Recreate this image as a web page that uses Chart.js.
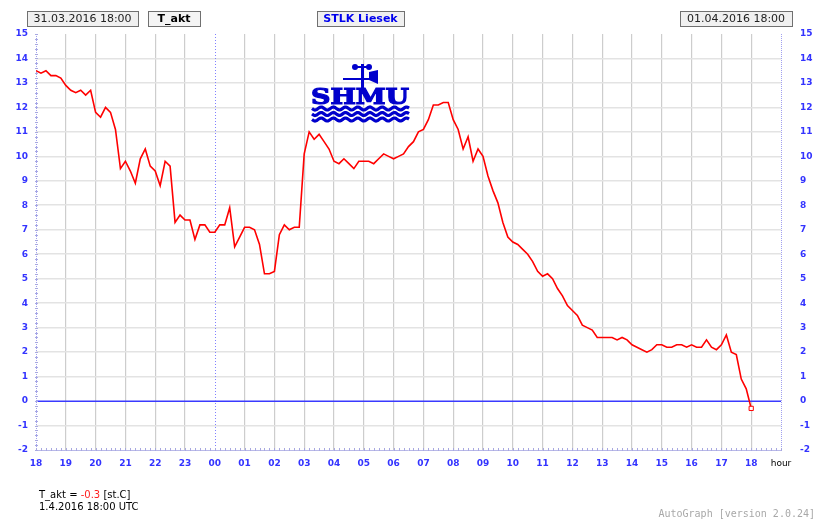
<!DOCTYPE html>
<html>
<head>
<meta charset="utf-8">
<script src="https://cdn.jsdelivr.net/npm/chart.js@4"></script>
<style>
  html, body { margin: 0; padding: 0; background: #fff; }
  #wrap { width: 820px; height: 525px; position: relative; }
</style>
</head>
<body>
<div id="wrap"><canvas id="tempChart" width="820" height="525"></canvas></div>
<script>
// hour labels on the x axis (18:00 31.03. -> 19:00 01.04.)
const hourLabels = ['18','19','20','21','22','23','00','01','02','03','04','05','06',
    '07','08','09','10','11','12','13','14','15','16','17','18','hour'];

// T_akt, 10 minute samples from 31.03.2016 18:00 UTC
const STEP_MIN = 10;
const tAkt = [
    13.5, 13.4, 13.5, 13.3, 13.3, 13.2, 12.9, 12.7, 12.6, 12.7, 12.5, 12.7,
    11.8, 11.6, 12.0, 11.8, 11.1, 9.5, 9.8, 9.4, 8.9, 9.9, 10.3, 9.6,
    9.4, 8.8, 9.8, 9.6, 7.3, 7.6, 7.4, 7.4, 6.6, 7.2, 7.2, 6.9,
    6.9, 7.2, 7.2, 7.9, 6.3, 6.7, 7.1, 7.1, 7.0, 6.4, 5.2, 5.2,
    5.3, 6.8, 7.2, 7.0, 7.1, 7.1, 10.1, 11.0, 10.7, 10.9, 10.6, 10.3,
    9.8, 9.7, 9.9, 9.7, 9.5, 9.8, 9.8, 9.8, 9.7, 9.9, 10.1, 10.0,
    9.9, 10.0, 10.1, 10.4, 10.6, 11.0, 11.1, 11.5, 12.1, 12.1, 12.2, 12.2,
    11.5, 11.1, 10.3, 10.8, 9.8, 10.3, 10.0, 9.2, 8.6, 8.1, 7.3, 6.7,
    6.5, 6.4, 6.2, 6.0, 5.7, 5.3, 5.1, 5.2, 5.0, 4.6, 4.3, 3.9,
    3.7, 3.5, 3.1, 3.0, 2.9, 2.6, 2.6, 2.6, 2.6, 2.5, 2.6, 2.5,
    2.3, 2.2, 2.1, 2.0, 2.1, 2.3, 2.3, 2.2, 2.2, 2.3, 2.3, 2.2,
    2.3, 2.2, 2.2, 2.5, 2.2, 2.1, 2.3, 2.7, 2.0, 1.9, 0.9, 0.5,
    -0.3
];

const Y_MIN = -2;
const Y_MAX = 15;
const X_MAX = 25 * 60;

const BLUE = '#3333ff';

function drawBox(ctx, x, y, w, h, text, opts) {
    ctx.save();
    ctx.fillStyle = opts.fill;
    ctx.fillRect(x, y, w, h);
    ctx.strokeStyle = '#707070';
    ctx.lineWidth = 1;
    ctx.strokeRect(x + 0.5, y + 0.5, w, h);
    ctx.fillStyle = opts.color;
    ctx.font = opts.font;
    ctx.textAlign = 'center';
    ctx.textBaseline = 'middle';
    ctx.fillText(text, x + w / 2, y + h / 2 + 1);
    ctx.restore();
}

function drawLogo(ctx) {
    ctx.save();
    ctx.fillStyle = '#0000cc';
    ctx.strokeStyle = '#0000cc';
    // wind vane
    ctx.fillRect(361, 64, 3, 24);
    ctx.fillRect(343, 78, 28, 2);
    ctx.beginPath();
    ctx.moveTo(369, 72); ctx.lineTo(378, 70); ctx.lineTo(378, 84); ctx.lineTo(369, 80);
    ctx.closePath(); ctx.fill();
    ctx.beginPath(); ctx.arc(355, 67, 3, 0, Math.PI * 2); ctx.fill();
    ctx.beginPath(); ctx.arc(369, 67, 3, 0, Math.PI * 2); ctx.fill();
    ctx.fillRect(354, 66, 16, 2);
    // lettering
    ctx.font = 'bold 22px "DejaVu Serif"';
    ctx.textBaseline = 'alphabetic';
    const w = ctx.measureText('SHMU').width;
    ctx.translate(311, 104);
    ctx.scale(98 / w, 1.0);
    ctx.lineWidth = 1.2;
    ctx.fillText('SHMU', 0, 0);
    ctx.strokeText('SHMU', 0, 0);
    ctx.restore();
    // waves
    ctx.save();
    ctx.strokeStyle = '#0000cc';
    ctx.lineWidth = 3.2;
    [108.5, 114, 119.5].forEach(y0 => {
        ctx.beginPath();
        for (let x = 312; x <= 409; x++) {
            const y = y0 + 1.5 * Math.sin((x - 312) / 12.2 * Math.PI * 2);
            if (x === 312) ctx.moveTo(x, y); else ctx.lineTo(x, y);
        }
        ctx.stroke();
    });
    ctx.restore();
}

const decorPlugin = {
    id: 'decor',
    beforeDatasetsDraw(chart) {
        const { ctx, chartArea, scales } = chart;
        const xs = scales.x, ys = scales.y;
        ctx.save();
        // zero line
        const y0 = Math.round(ys.getPixelForValue(0));
        ctx.fillStyle = '#3a3aff';
        ctx.fillRect(chartArea.left, y0 - 0.5, chartArea.right - chartArea.left, 1.5);
        ctx.lineWidth = 1;
        // dotted midnight line and side borders
        ctx.strokeStyle = '#8080ff';
        ctx.setLineDash([1, 2]);
        const xm = Math.round(xs.getPixelForValue(360)) + 0.5;
        ctx.beginPath(); ctx.moveTo(xm, chartArea.top); ctx.lineTo(xm, chartArea.bottom); ctx.stroke();
        ctx.strokeStyle = '#a0a0f0';
        ctx.setLineDash([1, 1]);
        [chartArea.left, chartArea.right].forEach(px => {
            const p = Math.round(px) + 0.5;
            ctx.beginPath(); ctx.moveTo(p, chartArea.top); ctx.lineTo(p, chartArea.bottom); ctx.stroke();
        });
        ctx.setLineDash([]);
        // minor ticks on bottom axis
        ctx.strokeStyle = '#a8a8e0';
        for (let v = 0; v <= X_MAX; v += STEP_MIN) {
            const px = Math.round(xs.getPixelForValue(v)) + 0.5;
            ctx.beginPath(); ctx.moveTo(px, chartArea.bottom - 2); ctx.lineTo(px, chartArea.bottom + 1); ctx.stroke();
        }
        // minor ticks on left axis
        for (let v = Y_MIN; v <= Y_MAX; v += 0.2) {
            const py = Math.round(ys.getPixelForValue(v)) + 0.5;
            ctx.beginPath(); ctx.moveTo(chartArea.left - 1, py); ctx.lineTo(chartArea.left + 2, py); ctx.stroke();
        }
        ctx.restore();
        drawLogo(ctx);
    },
    afterDraw(chart) {
        const ctx = chart.ctx;
        drawBox(ctx, 27, 11, 111, 15, '31.03.2016 18:00', { fill: '#f0f0f0', color: '#222', font: '11px "DejaVu Sans"' });
        drawBox(ctx, 148, 11, 52, 15, 'T_akt', { fill: '#f4f4f4', color: '#000', font: 'bold 11px "DejaVu Sans"' });
        drawBox(ctx, 317, 11, 87, 15, 'STLK Liesek', { fill: '#f0f0f0', color: '#0000ee', font: 'bold 11px "DejaVu Sans"' });
        drawBox(ctx, 680, 11, 112, 15, '01.04.2016 18:00', { fill: '#f0f0f0', color: '#222', font: '11px "DejaVu Sans"' });

        ctx.save();
        ctx.textBaseline = 'middle';
        ctx.font = '10px "DejaVu Sans"';
        let x = 39;
        const parts = [['T_akt = ', '#000'], [tAkt[tAkt.length - 1].toFixed(1), '#ff2020'], [' [st.C]', '#000']];
        parts.forEach(([t, c]) => {
            ctx.fillStyle = c;
            ctx.fillText(t, x, 495);
            x += ctx.measureText(t).width;
        });
        ctx.fillStyle = '#000';
        ctx.fillText('1.4.2016 18:00 UTC', 39, 507);
        ctx.fillStyle = '#a8a8a8';
        ctx.font = '10px "DejaVu Sans Mono"';
        ctx.textAlign = 'right';
        ctx.fillText('AutoGraph [version 2.0.24]', 815, 514);
        ctx.restore();
    }
};

const ctx = document.getElementById('tempChart');

new Chart(ctx, {
    type: 'line',
    data: {
        datasets: [{
            label: 'T_akt',
            data: tAkt.map((t, i) => ({ x: i * STEP_MIN, y: t })),
            borderColor: '#ff0000',
            borderWidth: 1.6,
            tension: 0,
            fill: false,
            pointStyle: 'rect',
            pointRadius: tAkt.map((_, i) => i === tAkt.length - 1 ? 3 : 0),
            pointBorderColor: '#ff0000',
            pointBackgroundColor: '#ffffff',
            pointBorderWidth: 1
        }]
    },
    options: {
        responsive: false,
        animation: false,
        layout: { padding: { top: 34, left: 0, right: 0, bottom: 0 } },
        plugins: {
            legend: { display: false },
            tooltip: { enabled: false }
        },
        scales: {
            x: {
                type: 'linear',
                min: 0,
                max: X_MAX,
                afterFit: s => { s.height = 75; },
                afterBuildTicks: s => { s.ticks = hourLabels.map((_, i) => ({ value: i * 60 })); },
                ticks: {
                    autoSkip: false,
                    maxRotation: 0,
                    padding: 8,
                    font: c => ({ family: 'DejaVu Sans', size: 9, weight: hourLabels[c.index] === 'hour' ? 'normal' : 'bold' }),
                    color: c => hourLabels[c.index] === 'hour' ? '#000' : BLUE,
                    callback: (v, i) => hourLabels[i]
                },
                grid: {
                    drawTicks: false,
                    lineWidth: 1.2,
                    color: c => (c.tick && (c.tick.value === 0 || c.tick.value === 360 || c.tick.value === X_MAX)) ? 'rgba(0,0,0,0)' : '#cdcdcd'
                },
                border: { display: true, color: '#b8b8e8', width: 1 }
            },
            y: {
                position: 'left',
                min: Y_MIN,
                max: Y_MAX,
                afterFit: s => { s.width = 36; },
                ticks: {
                    stepSize: 1,
                    padding: 8,
                    font: { family: 'DejaVu Sans', size: 9, weight: 'bold' },
                    color: BLUE
                },
                grid: {
                    drawTicks: false,
                    lineWidth: 1.6,
                    color: c => {
                        if (!c.tick) return '#e3e3e3';
                        if (c.tick.value === 0 || c.tick.value === Y_MAX || c.tick.value === Y_MIN) return 'rgba(0,0,0,0)';
                        return '#e3e3e3';
                    }
                },
                border: { display: false }
            },
            y2: {
                position: 'right',
                min: Y_MIN,
                max: Y_MAX,
                afterFit: s => { s.width = 39; },
                ticks: {
                    stepSize: 1,
                    padding: 19,
                    font: { family: 'DejaVu Sans', size: 9, weight: 'bold' },
                    color: BLUE
                },
                grid: { drawOnChartArea: false, drawTicks: false },
                border: { display: false }
            }
        }
    },
    plugins: [decorPlugin]
});
</script>
</body>
</html>
